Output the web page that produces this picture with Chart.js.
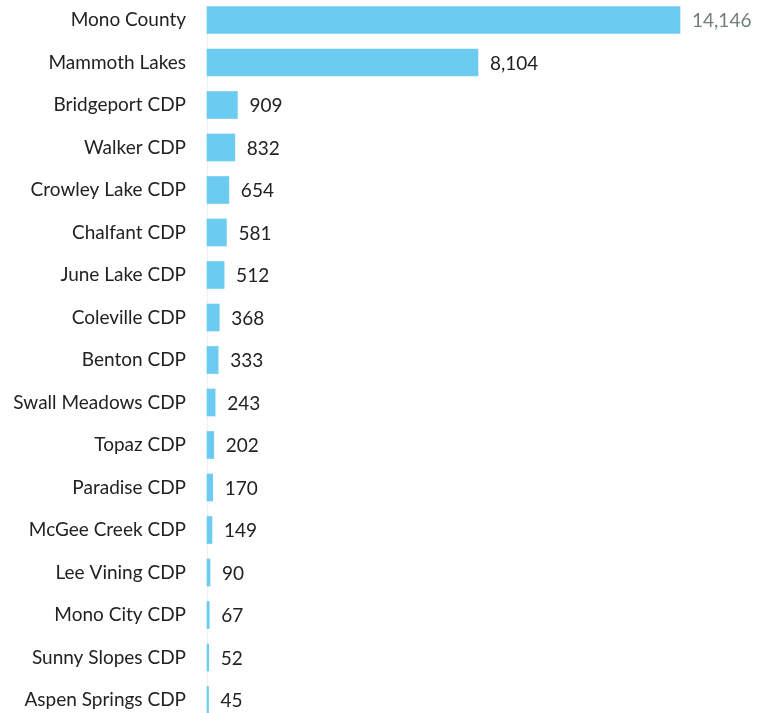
<!DOCTYPE html>
<html>
<head>
<meta charset="utf-8">
<script src="https://cdn.jsdelivr.net/npm/chart.js@4/dist/chart.umd.min.js"></script>
<style>
  html, body { margin: 0; padding: 0; background: #ffffff; }
  #wrap { position: relative; width: 758px; height: 713px; }
</style>
</head>
<body>
<div id="wrap"><canvas id="chart" width="758" height="713"></canvas></div>
<script>
// Population by place, Mono County
const places = [
  'Mono County', 'Mammoth Lakes', 'Bridgeport CDP', 'Walker CDP',
  'Crowley Lake CDP', 'Chalfant CDP', 'June Lake CDP', 'Coleville CDP',
  'Benton CDP', 'Swall Meadows CDP', 'Topaz CDP', 'Paradise CDP',
  'McGee Creek CDP', 'Lee Vining CDP', 'Mono City CDP', 'Sunny Slopes CDP',
  'Aspen Springs CDP'
];
const population = [
  14146, 8104, 909, 832, 654, 581, 512, 368, 333, 243, 202, 170, 149, 90, 67, 52, 45
];

const FONT = 'Lato, "Open Sans", sans-serif';
const FONT_SIZE = 19;

// Writes each bar's value just past its end
const valueLabels = {
  id: 'valueLabels',
  afterDatasetsDraw(chart) {
    const ctx = chart.ctx;
    const meta = chart.getDatasetMeta(0);
    ctx.save();
    ctx.font = FONT_SIZE + 'px ' + FONT;
    ctx.textBaseline = 'middle';
    ctx.textAlign = 'left';
    meta.data.forEach((bar, i) => {
      ctx.fillStyle = i === 0 ? '#6f7f78' : '#222222';
      ctx.fillText(population[i].toLocaleString('en-US'), bar.x + 12, bar.y + 1);
    });
    ctx.restore();
  }
};

new Chart(document.getElementById('chart'), {
  type: 'bar',
  data: {
    labels: places,
    datasets: [{
      data: population,
      backgroundColor: '#6ccbf0',
      borderWidth: 0,
      barThickness: 27,
      clip: false
    }]
  },
  options: {
    indexAxis: 'y',
    responsive: false,
    animation: false,
    layout: { padding: { top: 20, bottom: 13, left: 0, right: 16 } },
    plugins: { legend: { display: false }, tooltip: { enabled: false } },
    scales: {
      x: {
        min: 0,
        max: 16000,
        display: false
      },
      y: {
        offset: false,
        grid: { display: false, drawTicks: false },
        border: { display: true, color: '#f0f0f0', width: 1 },
        afterFit(scale) {
          scale.width = 207;
          scale.paddingTop = 0;
          scale.paddingBottom = 0;
        },
        ticks: {
          padding: 21,
          color: '#222222',
          font: { family: FONT, size: FONT_SIZE },
          autoSkip: false
        }
      }
    }
  },
  plugins: [valueLabels]
});
</script>
</body>
</html>
